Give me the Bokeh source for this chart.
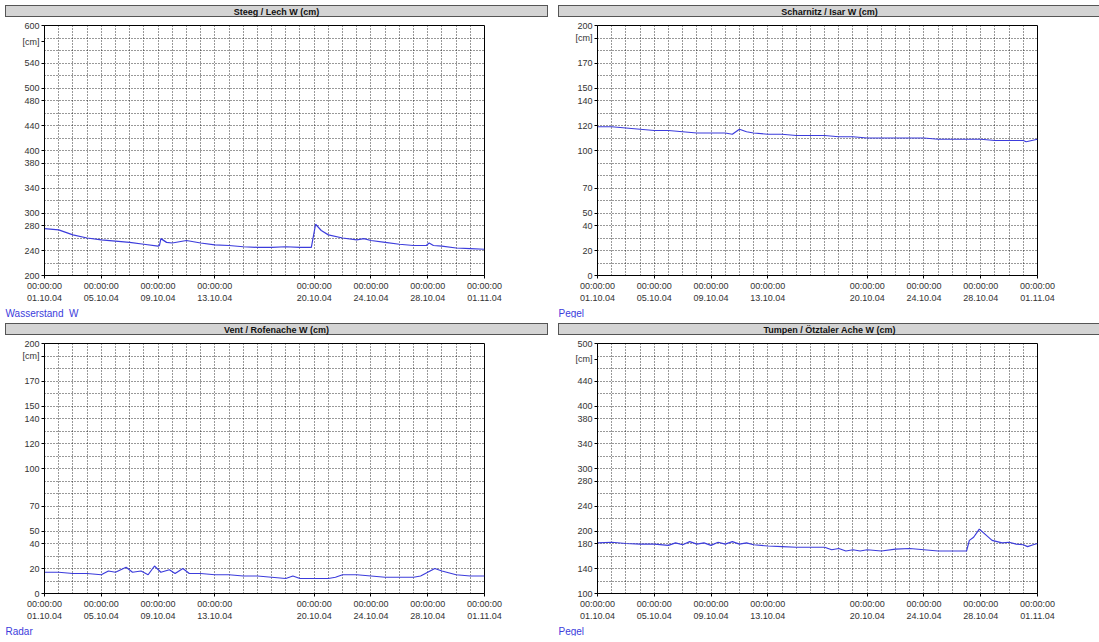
from bokeh.plotting import figure
from bokeh.layouts import column, row
from bokeh.models import FixedTicker, Title, Div
from bokeh.embed import file_html
from bokeh.resources import INLINE

tick_days = [0, 4, 8, 12, 19, 23, 27, 31]
tick_dates = ["01.10.04", "05.10.04", "09.10.04", "13.10.04", "20.10.04", "24.10.04", "28.10.04", "01.11.04"]

steeg_x = [0,1,2,3,4,5,6,7,8,8.1,8.2,8.6,9,10,11,12,13,14,15,16,17,18,18.8,19.1,19.5,20,21,22,22.5,23,24,25,26,26.9,27.1,27.4,28,29,30,31]
steeg_y = [275,273,265,260,257,255,253,250,247,248,259,253,252,256,252,249,248,246,245,245,246,245,245,282,272,265,260,257,259,256,253,250,248,248,252,248,247,244,243,242]
scharnitz_x = [0,1,2,3,4,5,6,7,8,9,9.5,10,10.5,11,12,13,14,15,16,17,18,19,20,21,22,23,24,25,26,27,28,29,30,30.2,31]
scharnitz_y = [119,119,118,117,116,116,115,114,114,114,113,117,115,114,113,113,112,112,112,111,111,110,110,110,110,110,109,109,109,109,108,108,108,107,109]
vent_x = [0,1,2,3,4,4.5,5,5.75,6.2,6.8,7.3,7.75,8.2,8.8,9.2,9.75,10.2,11,12,13,14,15,16,17,17.5,18,19,20,20.5,21,22,23,24,25,26,26.5,27,27.5,28,29,30,31]
vent_y = [17,17,16,16,15,18,17,21,17,18,15,22,17,19,16,20,16,16,15,15,14,14,13,12,14,12,12,12,13,15,15,14,13,13,13,14,17,20,18,15,14,14]
tumpen_x = [0,1,2,3,4,5,5.5,6,6.5,7,7.5,8,8.5,9,9.5,10,10.5,11,12,13,14,15,16,16.5,17,17.5,18,18.5,19,20,21,22,23,24,25,26,26.2,26.5,26.9,27.3,27.8,28.5,29,29.5,30,30.3,30.7,31]
tumpen_y = [181,182,180,179,179,177,181,178,183,179,181,177,182,179,183,179,181,178,176,175,174,174,174,170,172,168,170,168,170,168,171,172,170,168,168,168,185,190,203,195,185,181,182,179,178,175,178,180]

panels = [
    ("Steeg  /  Lech W (cm)", steeg_x, steeg_y, 200, 600, [200,240,280,300,340,380,400,440,480,500,540,600], 574, "Wasserstand_W"),
    ("Scharnitz / Isar W (cm)", scharnitz_x, scharnitz_y, 0, 200, [0,20,40,50,70,100,120,140,150,170,200], 190, "Pegel"),
    ("Vent / Rofenache W (cm)", vent_x, vent_y, 0, 200, [0,20,40,50,70,100,120,140,150,170,200], 190, "Radar"),
    ("Tumpen / Ötztaler Ache W (cm)", tumpen_x, tumpen_y, 100, 500, [100,140,180,200,240,280,300,340,380,400,440,500], 475, "Pegel"),
]

FONT = "Liberation Sans"
cells = []
for title, xs, ys, lo, hi, yt, cmy, foot in panels:
    head = Div(text=title, width=543, height=12,
               styles={"background-color": "#d4d4d4", "border": "1px solid #555555",
                       "text-align": "center", "font-family": FONT, "font-size": "9px",
                       "font-weight": "bold", "line-height": "12px", "color": "#111111"})
    p = figure(width=545, height=296, x_range=(0, 31), y_range=(lo, hi),
               output_backend="svg", toolbar_location=None,
               min_border_left=44, min_border_right=61, min_border_top=3, min_border_bottom=4)
    p.line(xs, ys, line_color="#3c3cdc", line_width=1.2)
    step = (hi - lo) / 20
    p.ygrid.ticker = FixedTicker(ticks=[lo + i * step for i in range(21)])
    p.xgrid.ticker = FixedTicker(ticks=list(range(32)))
    for g in (p.xgrid, p.ygrid):
        g.grid_line_color = "#000000"
        g.grid_line_dash = "1 2"
        g.grid_line_alpha = 0.8
    p.yaxis.ticker = FixedTicker(ticks=yt + [cmy])
    p.yaxis.major_label_overrides = {cmy: "[cm]"}
    p.xaxis.ticker = FixedTicker(ticks=tick_days)
    p.xaxis.major_label_overrides = {d: "00:00:00\n" + s for d, s in zip(tick_days, tick_dates)}
    for ax in (p.xaxis, p.yaxis):
        ax.major_label_text_font = FONT
        ax.major_label_text_font_size = "9px"
        ax.major_label_text_color = "#333333"
        ax.axis_line_color = "#000000"
        ax.minor_tick_line_color = None
        ax.major_tick_out = 3
        ax.major_tick_in = 0
        ax.major_label_standoff = 2
    p.outline_line_color = "#000000"
    p.add_layout(Title(text=foot, align="left", text_color="#3c3cdc", text_font=FONT,
                       text_font_size="10px", text_font_style="normal", text_line_height=1.4,
                       offset=-39, standoff=0), "below")
    cells.append(column(head, p, spacing=0))

lay = column(row(cells[0], cells[1], spacing=0), row(cells[2], cells[3], spacing=0), spacing=0)
open("out.html", "w").write(file_html(lay, INLINE))
